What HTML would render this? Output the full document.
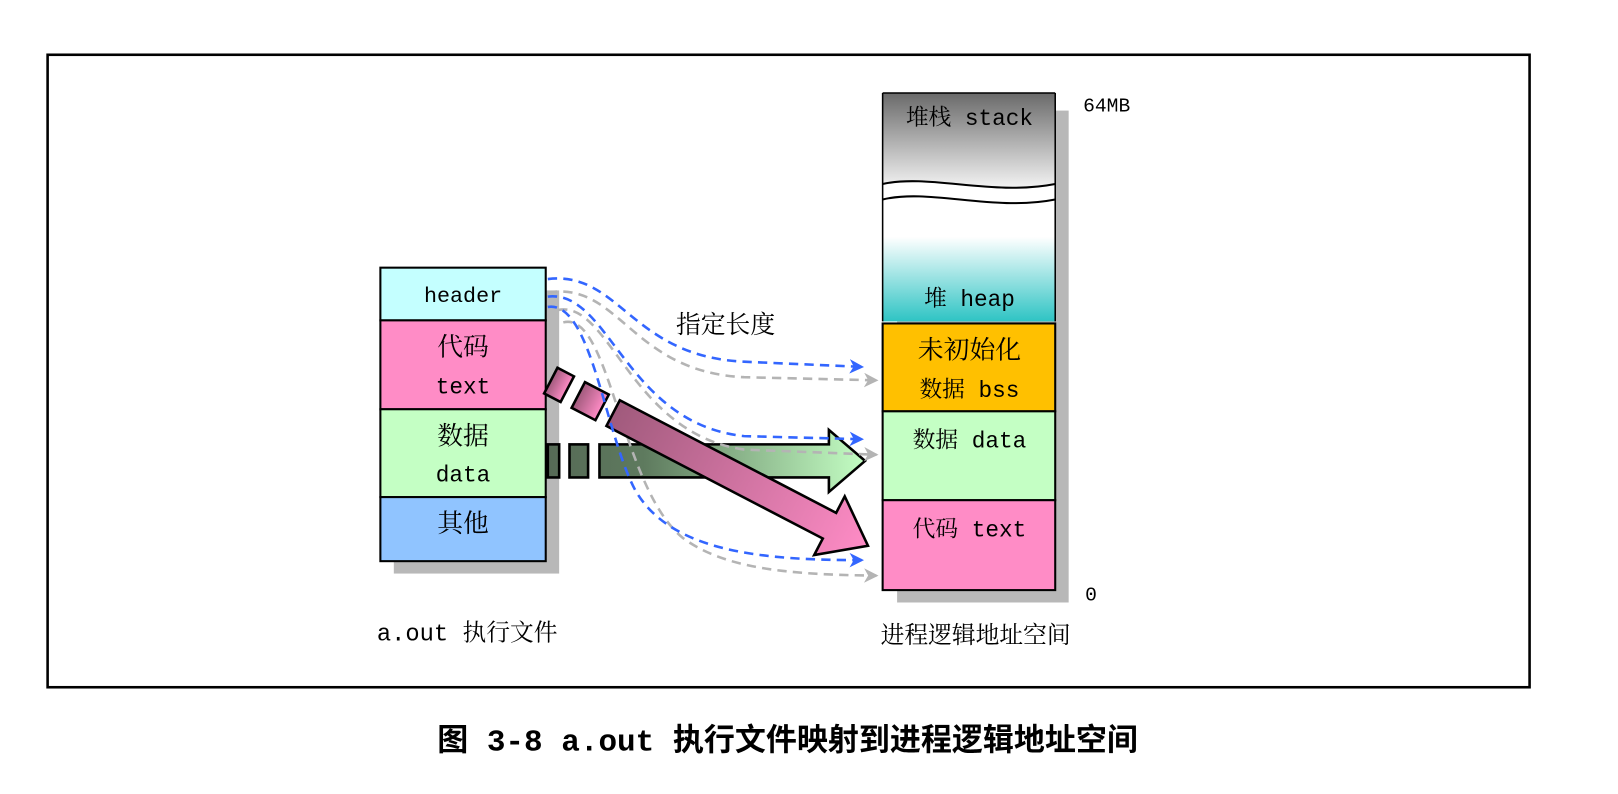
<!DOCTYPE html>
<html><head><meta charset="utf-8"><style>
html,body{margin:0;padding:0;background:#fff;}
svg{display:block;}
.t{font-family:"Liberation Mono","Noto Serif CJK SC",monospace;fill:#000;}
</style></head><body>
<svg width="1618" height="794" viewBox="0 0 1565.5 768.3" xmlns="http://www.w3.org/2000/svg">
<defs>
<linearGradient id="stk" x1="0" y1="0" x2="0" y2="1"><stop offset="0" stop-color="#6a6a6a"/><stop offset="1" stop-color="#ffffff"/></linearGradient>
<linearGradient id="hp" x1="0" y1="0" x2="0" y2="1"><stop offset="0" stop-color="#ffffff"/><stop offset="0.35" stop-color="#ffffff"/><stop offset="1" stop-color="#2ec4c4"/></linearGradient>
<linearGradient id="pk" x1="0" y1="0" x2="1" y2="0"><stop offset="0" stop-color="#a05a7c"/><stop offset="1" stop-color="#ff8cc6"/></linearGradient>
<linearGradient id="gr" x1="530" y1="0" x2="838" y2="0" gradientUnits="userSpaceOnUse"><stop offset="0" stop-color="#566a56"/><stop offset="0.3" stop-color="#5e7a5e"/><stop offset="1" stop-color="#c4ffc4"/></linearGradient>
<marker id="ab" markerWidth="14" markerHeight="14" refX="12" refY="7" orient="auto" markerUnits="userSpaceOnUse"><path d="M0,0 L14,7 L0,14 L4,7 Z" fill="#3366ff"/></marker>
<marker id="ag" markerWidth="14" markerHeight="14" refX="12" refY="7" orient="auto" markerUnits="userSpaceOnUse"><path d="M0,0 L14,7 L0,14 L4,7 Z" fill="#b4b4b4"/></marker>
</defs>
<rect x="46" y="53" width="1434" height="612" fill="#fff" stroke="#000" stroke-width="2.5"/>

<rect x="381" y="281" width="160" height="274" fill="#b8b8b8"/>
<rect x="368" y="259" width="160" height="51" fill="#c4ffff" stroke="#000" stroke-width="2"/>
<rect x="368" y="310" width="160" height="86" fill="#ff8cc6" stroke="#000" stroke-width="2"/>
<rect x="368" y="396" width="160" height="85" fill="#c4ffc4" stroke="#000" stroke-width="2"/>
<rect x="368" y="481" width="160" height="62" fill="#90c4ff" stroke="#000" stroke-width="2"/>
<text class="t" x="448" y="292" font-size="21" text-anchor="middle">header</text>
<text class="t" x="448" y="344" font-size="25" text-anchor="middle">代码</text>
<text class="t" x="448" y="381" font-size="22" text-anchor="middle">text</text>
<text class="t" x="448" y="430" font-size="25" text-anchor="middle">数据</text>
<text class="t" x="448" y="466" font-size="22" text-anchor="middle">data</text>
<text class="t" x="448" y="515" font-size="25" text-anchor="middle">其他</text>

<rect x="868" y="107" width="166" height="476" fill="#b8b8b8"/>
<rect x="854" y="90" width="167" height="100" fill="url(#stk)"/>
<rect x="854" y="185" width="167" height="126" fill="url(#hp)"/>
<path d="M854,178 C900,168 960,190 1021,178 L1021,193 C960,205 900,182 854,193 Z" fill="#fff" stroke="none"/>
<path d="M854,178 C900,168 960,190 1021,178" fill="none" stroke="#000" stroke-width="2"/>
<path d="M854,193 C900,182 960,205 1021,193" fill="none" stroke="#000" stroke-width="2"/>
<line x1="854" y1="90" x2="854" y2="311" stroke="#000" stroke-width="1.5"/>
<line x1="1021" y1="90" x2="1021" y2="311" stroke="#000" stroke-width="1.5"/>
<line x1="854" y1="90" x2="1021" y2="90" stroke="#000" stroke-width="1.5"/>
<rect x="854" y="313" width="167" height="85" fill="#ffc000" stroke="#000" stroke-width="2"/>
<rect x="854" y="398" width="167" height="86" fill="#c4ffc4" stroke="#000" stroke-width="2"/>
<rect x="854" y="484" width="167" height="87" fill="#ff8cc6" stroke="#000" stroke-width="2"/>
<text class="t" x="938" y="121" font-size="22" text-anchor="middle">堆栈 stack</text>
<text class="t" x="938" y="296" font-size="22" text-anchor="middle">堆 heap</text>
<text class="t" x="938" y="347" font-size="25" text-anchor="middle">未初始化</text>
<text class="t" x="938" y="384" font-size="22" text-anchor="middle">数据 bss</text>
<text class="t" x="938" y="433" font-size="22" text-anchor="middle">数据 data</text>
<text class="t" x="938" y="519" font-size="22" text-anchor="middle">代码 text</text>
<text class="t" x="1048" y="108" font-size="19">64MB</text>
<text class="t" x="1050" y="581" font-size="19">0</text>

<g stroke="#000" stroke-width="2.5" fill="url(#gr)">
<rect x="530" y="430" width="11" height="32"/>
<rect x="551" y="430" width="18" height="32"/>
<path d="M580,430 L802,430 L802,416 L837,446 L802,476 L802,462 L580,462 Z"/>
</g>

<g fill="none" stroke="#b4b4b4" stroke-width="2.5" stroke-dasharray="9,6">
<path d="M530,283 C600,272 610,360 720,365 L848,368" marker-end="url(#ag)"/>
<path d="M540,300 C590,290 610,420 720,435 L848,440" marker-end="url(#ag)"/>
<path d="M545,312 C590,300 600,470 660,520 C700,550 760,556 848,557" marker-end="url(#ag)"/>
</g>
<g transform="translate(540,372) rotate(27.5)" stroke="#000" stroke-width="2.5" fill="url(#pk)">
<rect x="-8" y="-14" width="18" height="28"/>
<rect x="22" y="-14" width="26" height="28"/>
<path d="M60,-14 L296,-14 L296,-32 L338,0 L296,32 L296,14 L60,14 Z"/>
</g>
<g fill="none" stroke="#3366ff" stroke-width="2.5" stroke-dasharray="9,6">
<path d="M530,270 C600,262 610,345 720,350 L834,355" marker-end="url(#ab)"/>
<path d="M530,287 C590,280 605,410 720,422 L834,425" marker-end="url(#ab)"/>
<path d="M530,297 C572,290 585,420 615,475 C650,535 740,542 834,542" marker-end="url(#ab)"/>
</g>
<text class="t" x="702" y="322" font-size="24" text-anchor="middle">指定长度</text>

<text class="t" x="452" y="620" font-size="23" text-anchor="middle">a.out 执行文件</text>
<text class="t" x="944" y="622" font-size="23" text-anchor="middle">进程逻辑地址空间</text>
<text x="762" y="726" font-size="30" font-weight="bold" text-anchor="middle" font-family="'Liberation Mono','Noto Sans CJK SC',sans-serif">图 3-8 a.out 执行文件映射到进程逻辑地址空间</text>
</svg>
</body></html>
